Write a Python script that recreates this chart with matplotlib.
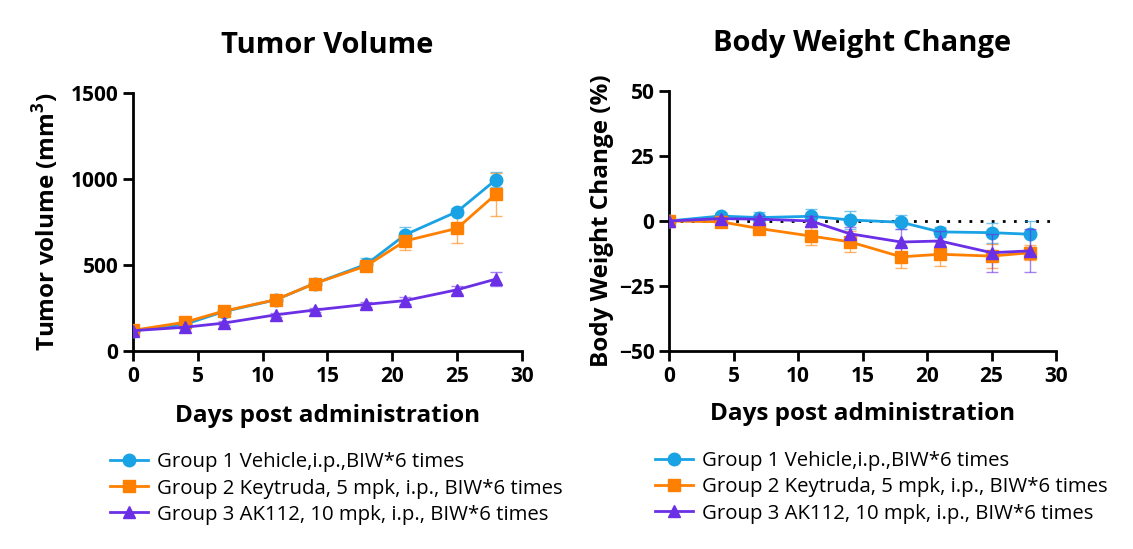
# Tumor volume and body weight change, two panels side by side

import matplotlib
matplotlib.use("Agg")
import matplotlib.pyplot as plt

plt.rcParams["font.family"] = ["Open Sans", "DejaVu Sans"]
plt.rcParams["mathtext.fontset"] = "custom"
plt.rcParams["mathtext.rm"] = "Open Sans"
plt.rcParams["mathtext.bf"] = "Open Sans:bold"

days = [0, 4, 7, 11, 14, 18, 21, 25, 28]
labels = ["Group 1 Vehicle,i.p.,BIW*6 times",
          "Group 2 Keytruda, 5 mpk, i.p., BIW*6 times",
          "Group 3 AK112, 10 mpk, i.p., BIW*6 times"]

# tumor volume (mm3), mean and error
tv_g1 = [118, 155, 229, 297, 392, 504, 676, 810, 996]
tv_g1_err = [8, 10, 15, 18, 22, 39, 43, 20, 45]
tv_g2 = [120, 167, 232, 298, 392, 495, 640, 713, 912]
tv_g2_err = [8, 12, 18, 20, 25, 30, 52, 87, 125]
tv_g3 = [118, 138, 162, 210, 238, 271, 293, 356, 418]
tv_g3_err = [6, 8, 10, 12, 14, 15, 18, 22, 41]

# body weight change (%), mean and error
bw_g1 = [0, 1.9, 1.3, 1.8, 0.4, -0.5, -4.2, -4.5, -5.1]
bw_g1_err = [0.5, 1.0, 2.0, 2.8, 3.5, 2.7, 2.0, 3.8, 5.0]
bw_g2 = [0, -0.3, -2.9, -5.8, -8.0, -13.8, -12.8, -13.5, -12.2]
bw_g2_err = [0.5, 1.0, 1.5, 3.5, 4.0, 4.4, 4.7, 4.7, 3.0]
bw_g3 = [0, 0.9, 0.7, 0.0, -4.9, -8.1, -7.7, -12.2, -11.5]
bw_g3_err = [0.5, 1.0, 1.2, 2.0, 2.5, 5.0, 4.0, 7.3, 8.3]

colors = ["#19a2e4", "#ff8000", "#6b2fe6"]
markers = ["o", "s", "^"]

fig = plt.figure(figsize=(11.33, 5.49), dpi=100)
ax1 = fig.add_axes([0.1174, 0.3607, 0.3433, 0.470])
ax2 = fig.add_axes([0.5905, 0.3607, 0.3416, 0.4736])


def draw(ax, series, errs):
    handles = [None] * 3
    for i in [2, 1, 0]:
        ax.errorbar(days, series[i], yerr=errs[i], fmt="none", ecolor=colors[i],
                    elinewidth=1, capsize=4, capthick=1, alpha=0.6, zorder=2 + i)
        h, = ax.plot(days, series[i], color=colors[i], marker=markers[i],
                     markersize=9, linewidth=2, zorder=3 + i, label=labels[i])
        handles[i] = h
    for s in ["top", "right"]:
        ax.spines[s].set_visible(False)
    for s in ["left", "bottom"]:
        ax.spines[s].set_linewidth(2)
    ax.tick_params(width=2, length=7, labelsize=15)
    ax.set_xlim(0, 30)
    ax.set_xticks([0, 5, 10, 15, 20, 25, 30])
    ax.set_xlabel("Days post administration", fontsize=17.5, fontweight="bold")
    return handles


h1 = draw(ax1, [tv_g1, tv_g2, tv_g3], [tv_g1_err, tv_g2_err, tv_g3_err])
ax1.set_ylim(0, 1500)
ax1.set_yticks([0, 500, 1000, 1500])
ax1.set_ylabel(r"Tumor volume (mm$^\mathbf{3}$)", fontsize=17.5, fontweight="bold")
ax1.set_title("Tumor Volume", fontsize=21, fontweight="bold", pad=29)
ax1.yaxis.set_label_coords(-0.184, 0.5)
ax1.xaxis.set_label_coords(0.5, -0.205)

ax2.plot([0, 29.8], [0, 0], color="black", linestyle=(0, (1, 3)), linewidth=2, zorder=1)
h2 = draw(ax2, [bw_g1, bw_g2, bw_g3], [bw_g1_err, bw_g2_err, bw_g3_err])
ax2.set_ylim(-50, 50)
ax2.set_yticks([-50, -25, 0, 25, 50])
ax2.set_ylabel("Body Weight Change (%)", fontsize=17.5, fontweight="bold")
ax2.set_title("Body Weight Change", fontsize=21, fontweight="bold", pad=29)
ax2.yaxis.set_label_coords(-0.142, 0.5)
ax2.xaxis.set_label_coords(0.5, -0.195)

for ax in (ax1, ax2):
    for t in ax.get_xticklabels() + ax.get_yticklabels():
        t.set_fontweight("bold")

leg_kw = dict(loc="upper left", frameon=False, fontsize=14.7, handlelength=1.85,
              labelspacing=0.3, handletextpad=0.45, borderaxespad=0, borderpad=0)
fig.legend(h1, labels, bbox_to_anchor=(0.097, 0.176), **leg_kw)
fig.legend(h2, labels, bbox_to_anchor=(0.578, 0.178), **leg_kw)

fig.savefig("out.png", dpi=100)
